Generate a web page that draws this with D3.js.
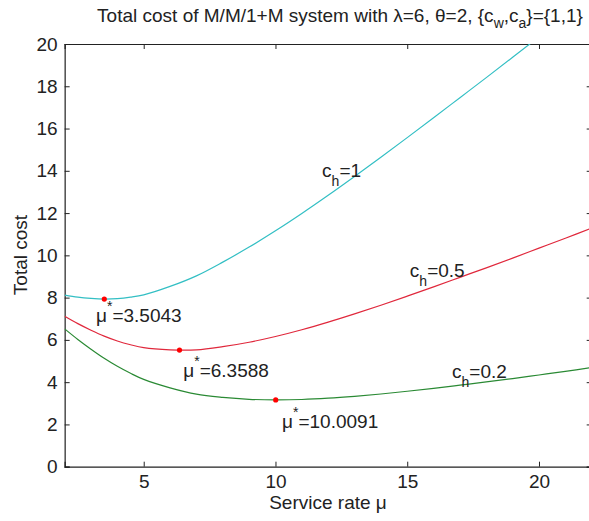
<!DOCTYPE html>
<html>
<head>
<meta charset="utf-8">
<script src="https://cdn.jsdelivr.net/npm/d3@7"></script>
<style>
  body { margin: 0; background: #fff; }
  text { font-family: "Liberation Sans", Arial, sans-serif; fill: #222; }
</style>
</head>
<body>
<svg id="chart" width="589" height="521"></svg>
<script>
// service rate samples
var mu = [2, 2.5, 3, 3.5, 4, 4.5, 5, 6, 7, 8, 9, 10, 11, 12, 13, 14, 15, 16, 17, 18, 19, 20, 21, 22];

// total cost, one list per holding cost
var costCh1  = [8.12, 8.02, 7.96, 7.93, 7.95, 8.02, 8.13, 8.53, 9.03, 9.68, 10.39, 11.16, 11.98, 12.84, 13.73, 14.64, 15.57, 16.51, 17.46, 18.41, 19.37, 20.34, 21.31, 22.29];
var costCh05 = [7.12, 6.77, 6.46, 6.18, 5.95, 5.77, 5.63, 5.53, 5.53, 5.68, 5.89, 6.16, 6.48, 6.84, 7.23, 7.64, 8.07, 8.51, 8.96, 9.41, 9.87, 10.34, 10.81, 11.29];
var costCh02 = [6.52, 6.02, 5.56, 5.13, 4.75, 4.42, 4.13, 3.73, 3.43, 3.28, 3.19, 3.16, 3.18, 3.24, 3.33, 3.44, 3.57, 3.71, 3.86, 4.01, 4.17, 4.34, 4.51, 4.69];

// optimal points
var optMu   = [3.5043, 6.3588, 10.0091];
var optCost = [7.93, 5.52, 3.16];

var xTicks = [5, 10, 15, 20];
var yTicks = [0, 2, 4, 6, 8, 10, 12, 14, 16, 18, 20];

var svg = d3.select("#chart");

// plot box (right edge falls just past the window, as in the reference)
var plotLeft = 64.65, plotRight = 591.7, plotTop = 44, plotBottom = 466.7;

var x = d3.scaleLinear().domain([2, 22]).range([plotLeft, plotRight]);
var y = d3.scaleLinear().domain([0, 20]).range([plotBottom, plotTop]);

svg.append("clipPath").attr("id", "clip")
  .append("rect")
  .attr("x", plotLeft).attr("y", plotTop)
  .attr("width", plotRight - plotLeft).attr("height", plotBottom - plotTop);

var fontSize = "19px";
var subSize = "14px";

// axes with inward ticks
var xAxis = svg.append("g")
  .attr("transform", "translate(0," + plotBottom + ")")
  .call(d3.axisBottom(x).tickValues(xTicks).tickSize(-5).tickPadding(8).tickFormat(d3.format("d")));
var xTop = svg.append("g")
  .attr("transform", "translate(0," + plotTop + ")")
  .call(d3.axisTop(x).tickValues(xTicks).tickSize(-5).tickFormat(""));
var yAxis = svg.append("g")
  .attr("transform", "translate(" + plotLeft + ",0)")
  .call(d3.axisLeft(y).tickValues(yTicks).tickSize(-5).tickPadding(7).tickFormat(d3.format("d")));
var yRight = svg.append("g")
  .attr("transform", "translate(" + plotRight + ",0)")
  .call(d3.axisRight(y).tickValues(yTicks).tickSize(-5).tickFormat(""));

[xAxis, xTop, yAxis, yRight].forEach(function (g) {
  g.select(".domain").attr("stroke", "#222").attr("stroke-width", 1.2);
  g.selectAll(".tick line").attr("stroke", "#222");
  g.selectAll(".tick text").attr("font-size", fontSize).attr("fill", "#333")
    .attr("font-family", "Liberation Sans, Arial, sans-serif");
});

// curves
var series = [
  { values: costCh1,  color: "#33bfc4" },
  { values: costCh05, color: "#e0283c" },
  { values: costCh02, color: "#2a8a34" }
];

var line = d3.line()
  .x(function (d, i) { return x(mu[i]); })
  .y(function (d) { return y(d); })
  .curve(d3.curveCatmullRom.alpha(0.5));

svg.append("g").attr("clip-path", "url(#clip)")
  .selectAll("path")
  .data(series)
  .join("path")
  .attr("d", function (s) { return line(s.values); })
  .attr("fill", "none")
  .attr("stroke", function (s) { return s.color; })
  .attr("stroke-width", 1.2);

svg.append("g")
  .selectAll("circle")
  .data(optMu)
  .join("circle")
  .attr("cx", function (d) { return x(d); })
  .attr("cy", function (d, i) { return y(optCost[i]); })
  .attr("r", 2.6)
  .attr("fill", "#f00");

// curve labels: c_h=...
var chLabels = ["1", "0.5", "0.2"];
var chPosMu = [11.77, 15.1, 16.7];
var chPosCost = [13.71, 8.98, 4.19];

chLabels.forEach(function (v, i) {
  var t = svg.append("text")
    .attr("x", x(chPosMu[i]))
    .attr("y", y(chPosCost[i]))
    .attr("font-size", fontSize);
  t.append("tspan").text("c");
  t.append("tspan").attr("dy", 9).attr("font-size", subSize).text("h");
  t.append("tspan").attr("dy", -9).text("=" + v);
});

// optimum labels: mu*=...
var optLabels = ["3.5043", "6.3588", "10.0091"];
var optPosMu = [3.19, 6.5, 10.25];
var optPosCost = [6.84, 4.25, 1.82];

optLabels.forEach(function (v, i) {
  var t = svg.append("text")
    .attr("x", x(optPosMu[i]))
    .attr("y", y(optPosCost[i]))
    .attr("font-size", fontSize);
  t.append("tspan").text("\u03bc");
  t.append("tspan").attr("dy", -11).attr("font-size", subSize).text("*");
  t.append("tspan").attr("dy", 11).text("=" + v);
});

// title
var title = svg.append("text")
  .attr("x", 340)
  .attr("y", 22)
  .attr("text-anchor", "middle")
  .attr("font-size", fontSize);
title.append("tspan").text("Total cost of M/M/1+M system with \u03bb=6, \u03b8=2, {c");
title.append("tspan").attr("dy", 6).attr("font-size", subSize).text("w");
title.append("tspan").attr("dy", -6).text(",c");
title.append("tspan").attr("dy", 6).attr("font-size", subSize).text("a");
title.append("tspan").attr("dy", -6).text("}={1,1}");

// axis labels
svg.append("text")
  .attr("x", 328)
  .attr("y", 509)
  .attr("text-anchor", "middle")
  .attr("font-size", fontSize)
  .text("Service rate \u03bc");

svg.append("text")
  .attr("transform", "translate(27,255) rotate(-90)")
  .attr("text-anchor", "middle")
  .attr("font-size", fontSize)
  .text("Total cost");
</script>
</body>
</html>
